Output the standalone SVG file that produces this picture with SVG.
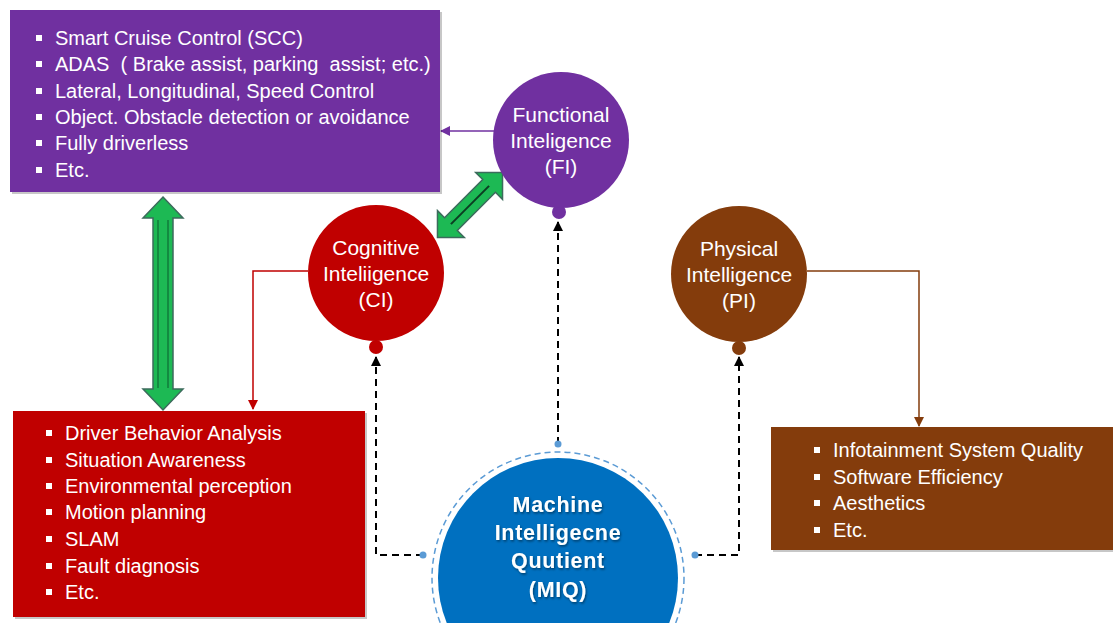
<svg xmlns="http://www.w3.org/2000/svg" width="1113" height="623" viewBox="0 0 1113 623">
<defs>
<style>
.bt{font-family:"Liberation Sans",Arial,sans-serif;font-size:20px;fill:#fff}
.ct{font-family:"Liberation Sans",Arial,sans-serif;font-size:21px;fill:#fff;text-anchor:middle}
.mt{font-family:"Liberation Sans",Arial,sans-serif;font-size:21.5px;font-weight:bold;fill:#fff;text-anchor:middle;letter-spacing:0.7px}
.sh{fill:#000;opacity:0.22}
.dash{fill:none;stroke:#000;stroke-width:2;stroke-dasharray:7,5}
.ga{fill:#1db954;stroke:#3c6b5c;stroke-width:1.5}
.gi{fill:none;stroke:#0e6b35;stroke-width:1.2}
</style>
<marker id="ap" markerWidth="10" markerHeight="10" refX="9" refY="5" orient="auto" markerUnits="userSpaceOnUse"><path d="M0,0 L10,5 L0,10 z" fill="#7030a0"/></marker>
<marker id="ar" markerWidth="10" markerHeight="10" refX="9" refY="5" orient="auto" markerUnits="userSpaceOnUse"><path d="M0,0 L10,5 L0,10 z" fill="#c00000"/></marker>
<marker id="ab" markerWidth="10" markerHeight="10" refX="9" refY="5" orient="auto" markerUnits="userSpaceOnUse"><path d="M0,0 L10,5 L0,10 z" fill="#843c0c"/></marker>
<marker id="ak" markerWidth="10" markerHeight="10" refX="9" refY="5" orient="auto" markerUnits="userSpaceOnUse"><path d="M0,0 L10,5 L0,10 z" fill="#000"/></marker>
<filter id="ts" x="-10%" y="-10%" width="120%" height="140%"><feDropShadow dx="1" dy="1.5" stdDeviation="0.8" flood-color="#000" flood-opacity="0.45"/></filter>
</defs>
<rect width="1113" height="623" fill="#fff"/>

<g id="connectors">
<polyline points="494,131 441,131" fill="none" stroke="#7030a0" stroke-width="1.5" marker-end="url(#ap)"/>
<polyline points="308,271 253,271 253,409" fill="none" stroke="#c00000" stroke-width="1.5" marker-end="url(#ar)"/>
<polyline points="807,271 919,271 919,426" fill="none" stroke="#843c0c" stroke-width="1.5" marker-end="url(#ab)"/>
<polyline class="dash" points="423,555 376,555 376,357" marker-end="url(#ak)"/>
<polyline class="dash" points="558,444 558,222" marker-end="url(#ak)"/>
<polyline class="dash" points="695,555 739,555 739,357" marker-end="url(#ak)"/>
<circle cx="423" cy="555" r="3.5" fill="#5b9bd5"/>
<circle cx="558" cy="444" r="3.5" fill="#5b9bd5"/>
<circle cx="695" cy="555" r="3.5" fill="#5b9bd5"/>
<polygon class="ga" points="163,197 183,218 173,218 173,389 183,389 163,410 143,389 153,389 153,218 143,218"/>
<polyline class="gi" points="158,220 158,388"/>
<polyline class="gi" points="168,220 168,388"/>
<g transform="translate(470,205) rotate(-45)">
<polygon class="ga" points="-46,0 -27,-19 -27,-9 27,-9 27,-19 46,0 27,19 27,9 -27,9 -27,19"/>
<line x1="-27" y1="0" x2="27" y2="0" stroke="#0b3d22" stroke-width="2"/>
</g>
</g>

<g id="functional-box">
<rect class="sh" x="12" y="12" width="430" height="182"/>
<rect x="10" y="10" width="430" height="182" fill="#7030a0"/>
<g fill="#fff"><rect x="36" y="35" width="6" height="6"/><rect x="36" y="61" width="6" height="6"/><rect x="36" y="88" width="6" height="6"/><rect x="36" y="114" width="6" height="6"/><rect x="36" y="140" width="6" height="6"/><rect x="36" y="167" width="6" height="6"/></g>
<text class="bt" x="55" y="45">Smart Cruise Control (SCC)</text>
<text class="bt" x="55" y="71" xml:space="preserve">ADAS  ( Brake assist, parking  assist; etc.)</text>
<text class="bt" x="55" y="98">Lateral, Longitudinal, Speed Control</text>
<text class="bt" x="55" y="124">Object. Obstacle detection or avoidance</text>
<text class="bt" x="55" y="150">Fully driverless</text>
<text class="bt" x="55" y="177">Etc.</text>
</g>

<g id="cognitive-box">
<rect class="sh" x="15" y="413" width="352" height="206"/>
<rect x="13" y="411" width="352" height="206" fill="#c00000"/>
<g fill="#fff"><rect x="46" y="430" width="6" height="6"/><rect x="46" y="457" width="6" height="6"/><rect x="46" y="483" width="6" height="6"/><rect x="46" y="509" width="6" height="6"/><rect x="46" y="536" width="6" height="6"/><rect x="46" y="563" width="6" height="6"/><rect x="46" y="589" width="6" height="6"/></g>
<text class="bt" x="65" y="440">Driver Behavior Analysis</text>
<text class="bt" x="65" y="467">Situation Awareness</text>
<text class="bt" x="65" y="493">Environmental perception</text>
<text class="bt" x="65" y="519">Motion planning</text>
<text class="bt" x="65" y="546">SLAM</text>
<text class="bt" x="65" y="573">Fault diagnosis</text>
<text class="bt" x="65" y="599">Etc.</text>
</g>

<g id="physical-box">
<rect class="sh" x="773" y="429" width="345" height="123"/>
<rect x="771" y="427" width="345" height="123" fill="#843c0c"/>
<g fill="#fff"><rect x="814" y="447" width="6" height="6"/><rect x="814" y="474" width="6" height="6"/><rect x="814" y="500" width="6" height="6"/><rect x="814" y="527" width="6" height="6"/></g>
<text class="bt" x="833" y="457">Infotainment System Quality</text>
<text class="bt" x="833" y="484">Software Efficiency</text>
<text class="bt" x="833" y="510">Aesthetics</text>
<text class="bt" x="833" y="537">Etc.</text>
</g>

<g id="fi-node">
<circle cx="559" cy="212" r="7" fill="#7030a0"/>
<circle cx="561" cy="140" r="68" fill="#7030a0"/>
<text class="ct" x="561" y="122">Functional</text>
<text class="ct" x="561" y="148">Inteligence</text>
<text class="ct" x="561" y="174">(FI)</text>
</g>

<g id="ci-node">
<circle cx="376" cy="347" r="7" fill="#c00000"/>
<circle cx="376" cy="273" r="68" fill="#c00000"/>
<text class="ct" x="376" y="255">Cognitive</text>
<text class="ct" x="376" y="281">Inteliigence</text>
<text class="ct" x="376" y="307">(CI)</text>
</g>

<g id="pi-node">
<circle cx="739" cy="348" r="7" fill="#843c0c"/>
<circle cx="739" cy="274" r="68" fill="#843c0c"/>
<text class="ct" x="739" y="256">Physical</text>
<text class="ct" x="739" y="282">Intelligence</text>
<text class="ct" x="739" y="308">(PI)</text>
</g>

<g id="miq-node">
<circle cx="558" cy="578" r="126" fill="none" stroke="#5b9bd5" stroke-width="1.5" stroke-dasharray="6,4"/>
<circle cx="558" cy="578" r="120" fill="#0070c0"/>
<g filter="url(#ts)">
<text class="mt" x="558" y="512">Machine</text>
<text class="mt" x="558" y="540">Intelligecne</text>
<text class="mt" x="558" y="568">Quutient</text>
<text class="mt" x="558" y="597">(MIQ)</text>
</g>
</g>
</svg>
